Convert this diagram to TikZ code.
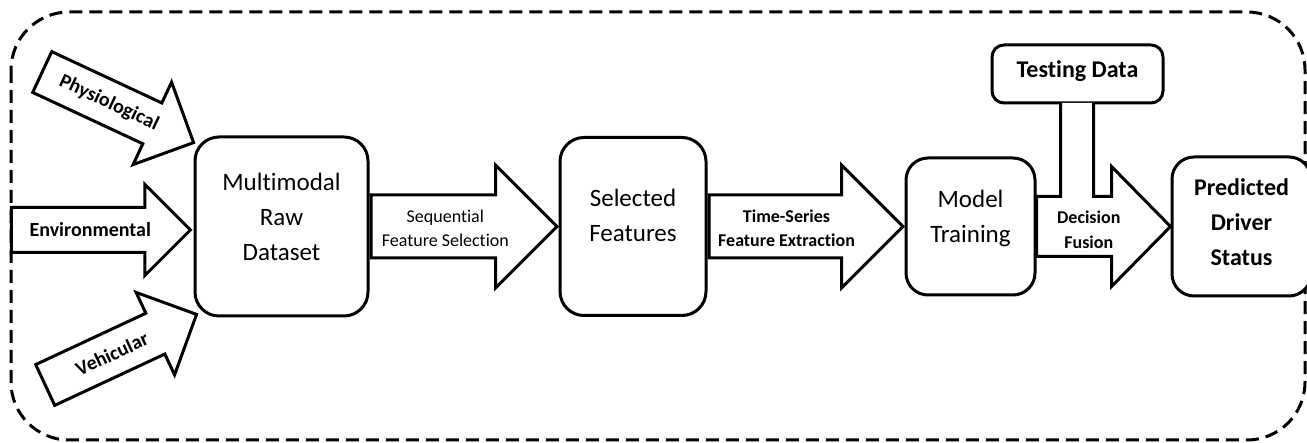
\documentclass[tikz,border=0pt]{standalone}
\usepackage{fontspec}
\setmainfont{Carlito}[Ligatures=NoCommon]
\usetikzlibrary{positioning, shapes.arrows, calc}

\begin{document}
\begin{tikzpicture}[x=1pt, y=-1pt, line width=3pt]

% --- Style Definitions ---
% Process boxes
\tikzstyle{stage_box}=[rectangle, draw, fill=white, rounded corners=24pt, inner sep=0pt]
\tikzstyle{stage_text}=[align=center, inner sep=0pt, font=\fontsize{25}{35}\selectfont]
\tikzstyle{stage_bold}=[stage_text, font=\bfseries\fontsize{24}{35}\selectfont]
% Block arrows (shaft width set by text height + depth)
\tikzstyle{input_arrow}=[single arrow, draw, fill=white, inner sep=0pt, text height=21pt, text depth=21pt, single arrow head extend=23pt, minimum width=88pt, minimum height=167pt]
\tikzstyle{flow_arrow}=[single arrow, draw, fill=white, inner sep=0pt, text height=30pt, text depth=30pt, single arrow head extend=30pt, minimum width=120pt]
\tikzstyle{input_text}=[inner sep=0pt, font=\bfseries\fontsize{20}{24}\selectfont]
\tikzstyle{flow_text}=[align=center, inner sep=0pt, font=\fontsize{18}{24}\selectfont]
% Outer frame
\tikzstyle{frame_line}=[dash pattern=on 13pt off 7pt, rounded corners=58pt]

\useasboundingbox (0,0) rectangle (1307,443);
\draw[frame_line] (11,12) rectangle (1305,440);

% --- 1. Main row of boxes ---
\node[stage_box, minimum width=173pt, minimum height=179pt,
      label={[stage_text, yshift=10pt]center:{Multimodal\\Raw\\Dataset}}] (raw) at (281.5,226.5) {};
\node[stage_box, minimum width=146pt, minimum height=178pt, right=189pt of raw,
      label={[stage_text, yshift=11pt]center:{Selected\\Features}}] (sel) {};
\node[stage_box, minimum width=129pt, minimum height=137pt, right=197pt of sel, rounded corners=22pt,
      label={[stage_text, yshift=8pt]center:{Model\\Training}}] (train) {};
\node[stage_box, minimum width=139pt, minimum height=139pt, right=134pt of train, rounded corners=22pt,
      label={[stage_bold, yshift=4pt]center:{Predicted\\Driver\\Status}}] (pred) {};
\node[stage_box, minimum width=171pt, minimum height=58pt, rounded corners=12pt,
      label={[stage_bold, yshift=3pt]center:{Testing Data}}] (test) at (1077.5,74) {};

% --- 2. Input arrows ---
\node[input_arrow, rotate=-25, anchor=tip] (phys_arrow) at ([shift={(2,8)}]raw.north west) {};
\node[input_arrow, minimum height=179pt, anchor=tip] (env_arrow) at ([shift={(-1,3.5)}]raw.west) {};
\node[input_arrow, rotate=25, anchor=tip] (veh_arrow) at ([shift={(5,-4)}]raw.south west) {};

\node[input_text, rotate=-25] (phys_label) at ($(phys_arrow.tail)!0.44!(phys_arrow.tip)$) {Physiological};
\node[input_text] (env_label) at ($(env_arrow.tail)!0.44!(env_arrow.tip)$) {Environmental};
\node[input_text, rotate=25] (veh_label) at ($(veh_arrow.tail)!0.44!(veh_arrow.tip)$) {Vehicular};

% --- 3. Flow arrows ---
\node[flow_arrow, minimum height=186pt, anchor=tail] (seq_arrow) at (raw.east) {};
\node[flow_arrow, minimum height=194pt, anchor=tail] (ts_arrow) at (sel.east) {};

\node[flow_text] (seq_label) at ($(seq_arrow.tail)!0.4!(seq_arrow.tip)+(0,2)$) {Sequential\\Feature Selection};
\node[flow_text, font=\bfseries\fontsize{18}{24}\selectfont] (ts_label) at ($(ts_arrow.tail)!0.4!(ts_arrow.tip)+(0,2)$) {Time-Series\\Feature Extraction};

% Decision fusion arrow joined to the testing data box
\coordinate (fuse_tip) at (pred.west);
\draw[fill=white] ($(test.south)+(-17,-1.5)$) -- ($(test.south |- fuse_tip)+(-17,-30)$)
  -- ($(train.east |- fuse_tip)+(0,-30)$) -- ($(train.east |- fuse_tip)+(0,30)$)
  -- ($(fuse_tip)+(-59,30)$) -- ($(fuse_tip)+(-59,60)$) -- (fuse_tip)
  -- ($(fuse_tip)+(-59,-60)$) -- ($(fuse_tip)+(-59,-30)$)
  -- ($(test.south |- fuse_tip)+(16,-30)$) -- ($(test.south)+(16,-1.5)$);
\node[flow_text, font=\bfseries\fontsize{18}{25}\selectfont] (fuse_label) at ($(train.east)!0.39!(fuse_tip)+(0,3)$) {Decision\\Fusion};

\end{tikzpicture}
\end{document}
